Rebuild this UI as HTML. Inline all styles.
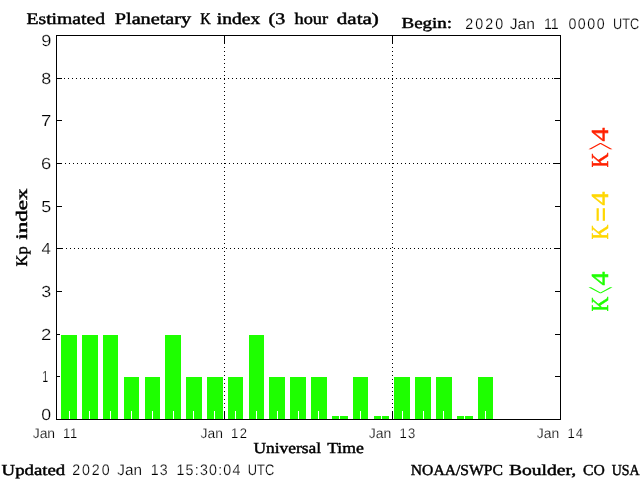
<!DOCTYPE html>
<html><head><meta charset="utf-8"><title>Estimated Planetary K index</title>
<style>html,body{margin:0;padding:0;background:#fff;overflow:hidden}svg{display:block}.h{stroke:#fff;stroke-width:.2px}.s{stroke:#000;stroke-width:.45px}</style>
</head><body>
<svg width="640" height="480" viewBox="0 0 640 480">
<rect width="640" height="480" fill="#fff"/>
<g shape-rendering="crispEdges">
<rect x="61" y="335" width="16" height="84" fill="#1eff00"/>
<rect x="82" y="335" width="16" height="84" fill="#1eff00"/>
<rect x="103" y="335" width="15" height="84" fill="#1eff00"/>
<rect x="124" y="377" width="15" height="42" fill="#1eff00"/>
<rect x="145" y="377" width="15" height="42" fill="#1eff00"/>
<rect x="165" y="335" width="16" height="84" fill="#1eff00"/>
<rect x="186" y="377" width="16" height="42" fill="#1eff00"/>
<rect x="207" y="377" width="16" height="42" fill="#1eff00"/>
<rect x="228" y="377" width="15" height="42" fill="#1eff00"/>
<rect x="249" y="335" width="15" height="84" fill="#1eff00"/>
<rect x="269" y="377" width="16" height="42" fill="#1eff00"/>
<rect x="290" y="377" width="16" height="42" fill="#1eff00"/>
<rect x="311" y="377" width="16" height="42" fill="#1eff00"/>
<rect x="332" y="416" width="16" height="3" fill="#1eff00"/>
<rect x="353" y="377" width="15" height="42" fill="#1eff00"/>
<rect x="374" y="416" width="15" height="3" fill="#1eff00"/>
<rect x="394" y="377" width="16" height="42" fill="#1eff00"/>
<rect x="415" y="377" width="16" height="42" fill="#1eff00"/>
<rect x="436" y="377" width="16" height="42" fill="#1eff00"/>
<rect x="457" y="416" width="16" height="3" fill="#1eff00"/>
<rect x="478" y="377" width="15" height="42" fill="#1eff00"/>
<rect x="69" y="411" width="1" height="8" fill="#fff"/>
<rect x="89" y="411" width="1" height="8" fill="#fff"/>
<rect x="110" y="411" width="1" height="8" fill="#fff"/>
<rect x="131" y="411" width="1" height="8" fill="#fff"/>
<rect x="152" y="411" width="1" height="8" fill="#fff"/>
<rect x="173" y="411" width="1" height="8" fill="#fff"/>
<rect x="193" y="411" width="1" height="8" fill="#fff"/>
<rect x="214" y="411" width="1" height="8" fill="#fff"/>
<rect x="235" y="411" width="1" height="8" fill="#fff"/>
<rect x="256" y="411" width="1" height="8" fill="#fff"/>
<rect x="277" y="411" width="1" height="8" fill="#fff"/>
<rect x="298" y="411" width="1" height="8" fill="#fff"/>
<rect x="318" y="411" width="1" height="8" fill="#fff"/>
<rect x="339" y="411" width="1" height="8" fill="#fff"/>
<rect x="360" y="411" width="1" height="8" fill="#fff"/>
<rect x="381" y="411" width="1" height="8" fill="#fff"/>
<rect x="402" y="411" width="1" height="8" fill="#fff"/>
<rect x="423" y="411" width="1" height="8" fill="#fff"/>
<rect x="443" y="411" width="1" height="8" fill="#fff"/>
<rect x="464" y="411" width="1" height="8" fill="#fff"/>
<rect x="485" y="411" width="1" height="8" fill="#fff"/>
<rect x="56" y="35" width="505" height="1" fill="#000"/>
<rect x="56" y="419" width="505" height="1" fill="#000"/>
<rect x="56" y="35" width="1" height="385" fill="#000"/>
<rect x="560" y="35" width="1" height="385" fill="#000"/>
<rect x="57" y="376" width="3" height="1" fill="#000"/>
<rect x="555" y="376" width="5" height="1" fill="#000"/>
<rect x="57" y="334" width="3" height="1" fill="#000"/>
<rect x="555" y="334" width="5" height="1" fill="#000"/>
<rect x="57" y="291" width="5" height="1" fill="#000"/>
<rect x="555" y="291" width="5" height="1" fill="#000"/>
<rect x="57" y="248" width="5" height="1" fill="#000"/>
<rect x="555" y="248" width="5" height="1" fill="#000"/>
<rect x="57" y="206" width="5" height="1" fill="#000"/>
<rect x="555" y="206" width="5" height="1" fill="#000"/>
<rect x="57" y="163" width="5" height="1" fill="#000"/>
<rect x="555" y="163" width="5" height="1" fill="#000"/>
<rect x="57" y="120" width="5" height="1" fill="#000"/>
<rect x="555" y="120" width="5" height="1" fill="#000"/>
<rect x="57" y="78" width="5" height="1" fill="#000"/>
<rect x="555" y="78" width="5" height="1" fill="#000"/>
<rect x="61" y="78" width="1" height="1" fill="#000"/>
<rect x="554" y="78" width="1" height="1" fill="#000"/>
<line stroke="#000" stroke-width="1" stroke-dasharray="1 3" x1="64" y1="78.5" x2="554" y2="78.5"/>
<rect x="61" y="163" width="1" height="1" fill="#000"/>
<rect x="554" y="163" width="1" height="1" fill="#000"/>
<line stroke="#000" stroke-width="1" stroke-dasharray="1 3" x1="65" y1="163.5" x2="554" y2="163.5"/>
<rect x="62" y="248" width="1" height="1" fill="#000"/>
<rect x="554" y="248" width="1" height="1" fill="#000"/>
<line stroke="#000" stroke-width="1" stroke-dasharray="1 3" x1="66" y1="248.5" x2="554" y2="248.5"/>
<rect x="224" y="36" width="1" height="8" fill="#000"/>
<rect x="224" y="411" width="1" height="8" fill="#000"/>
<line stroke="#000" stroke-width="1" stroke-dasharray="1 3" x1="224.5" y1="47" x2="224.5" y2="411"/>
<rect x="392" y="36" width="1" height="8" fill="#000"/>
<rect x="392" y="411" width="1" height="8" fill="#000"/>
<line stroke="#000" stroke-width="1" stroke-dasharray="1 3" x1="392.5" y1="47" x2="392.5" y2="411"/>
</g>
<g text-rendering="geometricPrecision">
<text transform="translate(41.34,420) scale(1.1068,1)" font-family='"Liberation Sans", sans-serif' font-weight="normal" font-size="16" fill="#000"  class="h">0</text>
<text transform="translate(42.20,382) scale(0.6647,1)" font-family='"Liberation Sans", sans-serif' font-weight="normal" font-size="16" fill="#000"  class="h">1</text>
<text transform="translate(41.07,340) scale(1.1612,1)" font-family='"Liberation Sans", sans-serif' font-weight="normal" font-size="16" fill="#000"  class="h">2</text>
<text transform="translate(41.33,297) scale(1.1184,1)" font-family='"Liberation Sans", sans-serif' font-weight="normal" font-size="16" fill="#000"  class="h">3</text>
<text transform="translate(41.62,254) scale(1.0520,1)" font-family='"Liberation Sans", sans-serif' font-weight="normal" font-size="16" fill="#000"  class="h">4</text>
<text transform="translate(41.28,212) scale(1.1184,1)" font-family='"Liberation Sans", sans-serif' font-weight="normal" font-size="16" fill="#000"  class="h">5</text>
<text transform="translate(41.08,169) scale(1.1486,1)" font-family='"Liberation Sans", sans-serif' font-weight="normal" font-size="16" fill="#000"  class="h">6</text>
<text transform="translate(41.07,126) scale(1.1612,1)" font-family='"Liberation Sans", sans-serif' font-weight="normal" font-size="16" fill="#000"  class="h">7</text>
<text transform="translate(41.24,84) scale(1.1243,1)" font-family='"Liberation Sans", sans-serif' font-weight="normal" font-size="16" fill="#000"  class="h">8</text>
<text transform="translate(41.18,46) scale(1.1425,1)" font-family='"Liberation Sans", sans-serif' font-weight="normal" font-size="16" fill="#000"  class="h">9</text>
<text transform="translate(32.69,438) scale(0.9928,1)" font-family='"Liberation Sans", sans-serif' font-weight="normal" font-size="14" fill="#000"  class="h">Jan</text>
<text transform="translate(63.12,438) scale(0.9300,1)" font-family='"Liberation Sans", sans-serif' font-weight="normal" font-size="14" fill="#000"  letter-spacing="0.738" class="h">11</text>
<text transform="translate(200.54,438) scale(0.9904,1)" font-family='"Liberation Sans", sans-serif' font-weight="normal" font-size="14" fill="#000"  class="h">Jan</text>
<text transform="translate(231.02,438) scale(0.9300,1)" font-family='"Liberation Sans", sans-serif' font-weight="normal" font-size="14" fill="#000"  letter-spacing="1.498" class="h">12</text>
<text transform="translate(368.79,438) scale(0.9974,1)" font-family='"Liberation Sans", sans-serif' font-weight="normal" font-size="14" fill="#000"  class="h">Jan</text>
<text transform="translate(399.62,438) scale(0.9300,1)" font-family='"Liberation Sans", sans-serif' font-weight="normal" font-size="14" fill="#000"  letter-spacing="1.159" class="h">13</text>
<text transform="translate(536.79,438) scale(0.9928,1)" font-family='"Liberation Sans", sans-serif' font-weight="normal" font-size="14" fill="#000"  class="h">Jan</text>
<text transform="translate(567.62,438) scale(0.9300,1)" font-family='"Liberation Sans", sans-serif' font-weight="normal" font-size="14" fill="#000"  letter-spacing="0.841" class="h">14</text>
<text transform="translate(26.46,24) scale(1.2151,1)" font-family='"Liberation Serif", serif' font-weight="normal" font-size="16.2" fill="#000"  class="s">Estimated</text>
<text transform="translate(114.74,24) scale(1.2510,1)" font-family='"Liberation Serif", serif' font-weight="normal" font-size="16.2" fill="#000"  class="s">Planetary</text>
<text transform="translate(200.20,24) scale(0.9011,1)" font-family='"Liberation Serif", serif' font-weight="normal" font-size="16.2" fill="#000"  class="s">K</text>
<text transform="translate(216.81,24) scale(1.2050,1)" font-family='"Liberation Serif", serif' font-weight="normal" font-size="16.2" fill="#000"  class="s">index</text>
<text transform="translate(268.55,24) scale(1.2305,1)" font-family='"Liberation Serif", serif' font-weight="normal" font-size="16.2" fill="#000"  class="s">(3</text>
<text transform="translate(294.56,24) scale(1.1310,1)" font-family='"Liberation Serif", serif' font-weight="normal" font-size="16.2" fill="#000"  class="s">hour</text>
<text transform="translate(336.76,24) scale(1.3021,1)" font-family='"Liberation Serif", serif' font-weight="normal" font-size="16.2" fill="#000"  class="s">data)</text>
<text transform="translate(401.48,28) scale(1.2420,1)" font-family='"Liberation Serif", serif' font-weight="normal" font-size="15.3" fill="#000"  class="s">Begin:</text>
<text transform="translate(465.29,29) scale(0.9300,1)" font-family='"Liberation Sans", sans-serif' font-weight="normal" font-size="15.3" fill="#000"  letter-spacing="2.194" class="h">2020</text>
<text transform="translate(509.77,29) scale(1.0236,1)" font-family='"Liberation Sans", sans-serif' font-weight="normal" font-size="15.3" fill="#000"  class="h">Jan</text>
<text transform="translate(543.93,29) scale(0.9300,1)" font-family='"Liberation Sans", sans-serif' font-weight="normal" font-size="15.3" fill="#000"  letter-spacing="-0.021" class="h">11</text>
<text transform="translate(568.47,29) scale(0.9300,1)" font-family='"Liberation Sans", sans-serif' font-weight="normal" font-size="15.3" fill="#000"  letter-spacing="1.593" class="h">0000</text>
<text transform="translate(613.05,29) scale(0.8311,1)" font-family='"Liberation Sans", sans-serif' font-weight="normal" font-size="15.3" fill="#000"  class="h">UTC</text>
<text transform="translate(1.62,474.5) scale(1.2264,1)" font-family='"Liberation Serif", serif' font-weight="normal" font-size="15.3" fill="#000"  class="s">Updated</text>
<text transform="translate(72.29,475) scale(0.9300,1)" font-family='"Liberation Sans", sans-serif' font-weight="normal" font-size="15.3" fill="#000"  letter-spacing="2.015" class="h">2020</text>
<text transform="translate(117.27,475) scale(1.0022,1)" font-family='"Liberation Sans", sans-serif' font-weight="normal" font-size="15.3" fill="#000"  class="h">Jan</text>
<text transform="translate(150.68,475) scale(0.9300,1)" font-family='"Liberation Sans", sans-serif' font-weight="normal" font-size="15.3" fill="#000"  letter-spacing="1.213" class="h">13</text>
<text transform="translate(176.43,475) scale(0.9300,1)" font-family='"Liberation Sans", sans-serif' font-weight="normal" font-size="15.3" fill="#000"  letter-spacing="1.317" class="h">15:30:04</text>
<text transform="translate(247.78,475) scale(0.8412,1)" font-family='"Liberation Sans", sans-serif' font-weight="normal" font-size="15.3" fill="#000"  class="h">UTC</text>
<text transform="translate(253.40,453) scale(1.1374,1)" font-family='"Liberation Serif", serif' font-weight="normal" font-size="15.3" fill="#000"  class="s">Universal</text>
<text transform="translate(327.19,453) scale(1.1539,1)" font-family='"Liberation Serif", serif' font-weight="normal" font-size="15.3" fill="#000"  class="s">Time</text>
<text transform="translate(410.82,474.5) scale(1.0213,1)" font-family='"Liberation Serif", serif' font-weight="normal" font-size="15.3" fill="#000"  class="s">NOAA/SWPC</text>
<text transform="translate(508.96,474.5) scale(1.2808,1)" font-family='"Liberation Serif", serif' font-weight="normal" font-size="15.3" fill="#000"  class="s">Boulder,</text>
<text transform="translate(583.12,474.5) scale(1.0228,1)" font-family='"Liberation Serif", serif' font-weight="normal" font-size="15.3" fill="#000"  class="s">CO</text>
<text transform="translate(611.72,474.5) scale(0.9112,1)" font-family='"Liberation Serif", serif' font-weight="normal" font-size="15.3" fill="#000"  class="s">USA</text>
<text transform="translate(27,266.45) rotate(-90) scale(1.0259,1)" font-family='"Liberation Serif", serif' font-weight="normal" font-size="16" fill="#000"  class="s">Kp</text>
<text transform="translate(27,239.76) rotate(-90) scale(1.4396,1)" font-family='"Liberation Serif", serif' font-weight="normal" font-size="16" fill="#000"  class="s">index</text>
<text transform="translate(608,167.56) rotate(-90) scale(0.8376,1)" font-family='"Liberation Serif", serif' font-weight="normal" font-size="24.4" fill="#ff2000" stroke="#ff2000" stroke-width="0.5">K</text>
<text transform="translate(608,141.49) rotate(-90) scale(1.1397,1)" font-family='"Liberation Serif", serif' font-weight="normal" font-size="24.4" fill="#ff2000" stroke="#ff2000" stroke-width="0.5">4</text>
<text transform="translate(617.48,149.92) rotate(-90) scale(0.5479,2.0386)" font-family='"Liberation Serif", serif' font-weight="normal" font-size="24.4" fill="#ff2000">&gt;</text>
<text transform="translate(608,239.56) rotate(-90) scale(0.8376,1)" font-family='"Liberation Serif", serif' font-weight="normal" font-size="24.4" fill="#ffd700" stroke="#ffd700" stroke-width="0.5">K</text>
<text transform="translate(608,205.49) rotate(-90) scale(1.1397,1)" font-family='"Liberation Serif", serif' font-weight="normal" font-size="24.4" fill="#ffd700" stroke="#ffd700" stroke-width="0.5">4</text>
<text transform="translate(611.21,221.88) rotate(-90) scale(1.1046,1.2633)" font-family='"Liberation Serif", serif' font-weight="bold" font-size="24.4" fill="#ffd700">=</text>
<text transform="translate(608,311.56) rotate(-90) scale(0.8376,1)" font-family='"Liberation Serif", serif' font-weight="normal" font-size="24.4" fill="#1eff00" stroke="#1eff00" stroke-width="0.5">K</text>
<text transform="translate(608,285.49) rotate(-90) scale(1.1397,1)" font-family='"Liberation Serif", serif' font-weight="normal" font-size="24.4" fill="#1eff00" stroke="#1eff00" stroke-width="0.5">4</text>
<text transform="translate(617.48,293.88) rotate(-90) scale(0.5450,2.0386)" font-family='"Liberation Serif", serif' font-weight="normal" font-size="24.4" fill="#1eff00">&lt;</text>
</g>
</svg>
</body></html>
